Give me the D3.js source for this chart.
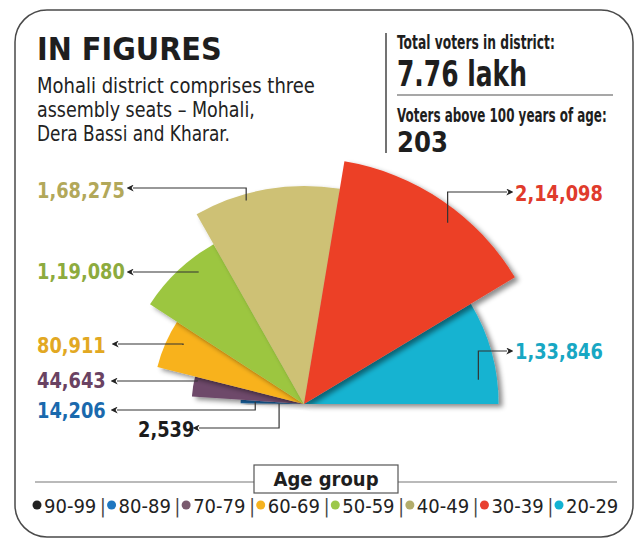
<!DOCTYPE html>
<html>
<head>
<meta charset="utf-8">
<script src="https://cdn.jsdelivr.net/npm/d3@7"></script>
<style>
  body { margin: 0; background: #fff; }
  svg text { font-family: "DejaVu Sans Condensed", "DejaVu Sans", sans-serif; font-stretch: condensed; }
</style>
</head>
<body>
<div id="container"></div>
<script>
// data, left to right around the half circle
const ageGroups = ["90-99", "80-89", "70-79", "60-69", "50-59", "40-49", "30-39", "20-29"];
const voters = [2539, 14206, 44643, 80911, 119080, 168275, 214098, 133846];
const wedgeColors = ["#1c1c1c", "#1b6fb6", "#6e4a6a", "#f8b21b", "#9cc63f", "#cec174", "#ec3f28", "#14b3d1"];
const labelColors = ["#1c1c1c", "#1a69ad", "#6a4262", "#e2a822", "#8dab3e", "#b2a85a", "#e03b2c", "#18a7c3"];
const dotColors = ["#222222", "#1f77c0", "#7a5a6e", "#f5b21f", "#9cc84a", "#b3ad6c", "#e8402f", "#12b2d2"];

// header texts
const title = "IN FIGURES";
const subtitle = ["Mohali district comprises three", "assembly seats \u2013 Mohali,", "Dera Bassi and Kharar."];
const totalLabel = "Total voters in district:";
const totalValue = "7.76 lakh";
const centLabel = "Voters above 100 years of age:";
const centValue = "203";

let w = 640;
let h = 546;
let cx = 304, cy = 404;

// callout placement for each wedge (label spot, arrow spot, where inside the wedge it points)
const callouts = [
  {tx: 138, ty: 437, ax: 199, ay: 428, t: 0.5, f: 0.93},
  {tx: 37, ty: 418, ax: 117, ay: 410, t: 0.5, f: 0.77},
  {tx: 37, ty: 388, ax: 117, ay: 381, t: 0.79, f: 0.97},
  {tx: 37, ty: 353, ax: 118, ay: 344, t: 0.63, f: 0.89},
  {tx: 37, ty: 279, ax: 133, ay: 272, t: 0.66, f: 0.92},
  {tx: 37, ty: 198, ax: 133, ay: 188, t: 0.35, f: 0.97},
  {tx: 515, ty: 201, ax: 507, ay: 192, t: 0.584, f: 0.94},
  {tx: 515, ty: 359, ax: 507, ay: 351, t: 0.745, f: 0.905}
];

// indian style grouping: 1,68,275
function lakhFormat(n) {
  let s = String(n);
  if (s.length <= 3) return s;
  let last = s.slice(-3);
  let rest = s.slice(0, -3);
  let parts = [];
  while (rest.length > 2) {
    parts.unshift(rest.slice(-2));
    rest = rest.slice(0, -2);
  }
  if (rest.length) parts.unshift(rest);
  return parts.join(",") + "," + last;
}

// squeeze a text sideways so it spans `width` px (the print font is very narrow)
function fitText(sel, x, y, width) {
  sel.each(function () {
    let natural = this.getComputedTextLength();
    let k = Math.min(1, width / natural);
    d3.select(this).attr("transform", `translate(${x},${y}) scale(${k},1)`);
  });
}

let data = ageGroups.map((g, i) => ({group: g, value: voters[i], idx: i}));

let viz = d3.select("#container")
  .append("svg")
  .attr("width", w)
  .attr("height", h);

let defs = viz.append("defs");
defs.append("filter")
  .attr("id", "shadow")
  .attr("x", "-20%").attr("y", "-20%").attr("width", "140%").attr("height", "140%")
  .append("feDropShadow")
  .attr("dx", 4).attr("dy", 3)
  .attr("stdDeviation", 2.5)
  .attr("flood-color", "#000")
  .attr("flood-opacity", 0.45);

defs.append("marker")
  .attr("id", "arrow")
  .attr("viewBox", "0 0 10 10")
  .attr("refX", 1).attr("refY", 5)
  .attr("markerWidth", 7).attr("markerHeight", 7)
  .attr("markerUnits", "userSpaceOnUse")
  .attr("orient", "auto-start-reverse")
  .append("path")
  .attr("d", "M10,5 L0,0 L3,5 L0,10 z")
  .attr("fill", "#222");

// frame
viz.append("rect")
  .attr("x", 15).attr("y", 10)
  .attr("width", 618).attr("height", 527)
  .attr("rx", 32)
  .attr("fill", "none")
  .attr("stroke", "#4a4a4a")
  .attr("stroke-width", 1.5);

// header, left
viz.append("text")
  .attr("font-size", 32).attr("font-weight", "bold")
  .attr("fill", "#1e1e1e")
  .text(title)
  .call(fitText, 37, 60, 185);

const subWidths = [278, 218, 193];
viz.append("g").selectAll("text")
  .data(subtitle)
  .join("text")
  .attr("font-size", 20.5)
  .attr("fill", "#222")
  .text(d => d)
  .each(function (d, i) {
    d3.select(this).call(fitText, 37, 93 + i * 24, subWidths[i]);
  });

// header, right
viz.append("line")
  .attr("x1", 386).attr("x2", 386).attr("y1", 33).attr("y2", 153)
  .attr("stroke", "#444").attr("stroke-width", 1.5);
viz.append("line")
  .attr("x1", 397).attr("x2", 613).attr("y1", 95).attr("y2", 95)
  .attr("stroke", "#8a8a8a").attr("stroke-width", 1.5);

const headRight = [
  {t: totalLabel, y: 49, size: 19, len: 158},
  {t: totalValue, y: 86, size: 35, len: 130},
  {t: centLabel, y: 122, size: 19, len: 210},
  {t: centValue, y: 152, size: 28, len: 51}
];
viz.append("g").selectAll("text")
  .data(headRight)
  .join("text")
  .attr("font-size", d => d.size)
  .attr("font-weight", "bold")
  .attr("fill", "#1e1e1e")
  .text(d => d.t)
  .each(function (d) {
    d3.select(this).call(fitText, 397, d.y, d.len);
  });

// the half pie: angle by share, radius by sqrt of value
let pie = d3.pie()
  .value(d => d.value)
  .sort(null)
  .startAngle(-Math.PI / 2)
  .endAngle(Math.PI / 2);

let rScale = d3.scaleSqrt()
  .domain([0, d3.max(voters)])
  .range([0, 246]);

let arc = d3.arc()
  .innerRadius(0)
  .outerRadius(d => rScale(d.data.value));

let slices = pie(data);
// paint order: 20-29 first, 30-39 last so its shadow falls on its neighbours
let paintOrder = [7, 0, 1, 2, 3, 4, 5, 6].map(i => slices[i]);

let graphGroup = viz.append("g")
  .attr("transform", `translate(${cx},${cy})`);

graphGroup.selectAll(".wedge")
  .data(paintOrder)
  .join("path")
  .classed("wedge", true)
  .attr("d", arc)
  .attr("fill", d => wedgeColors[d.data.idx])
  .attr("filter", "url(#shadow)");

// callouts
let calloutGroup = viz.append("g");
slices.forEach((s, i) => {
  let c = callouts[i];
  let a = s.startAngle + (s.endAngle - s.startAngle) * c.t;
  let r = rScale(s.data.value) * c.f;
  let tipX = cx + r * Math.sin(a);
  let tipY = cy - r * Math.cos(a);
  calloutGroup.append("path")
    .attr("d", `M${c.ax},${c.ay} H${tipX} V${tipY}`)
    .attr("fill", "none")
    .attr("stroke", "#333")
    .attr("stroke-width", 1.2)
    .attr("marker-start", "url(#arrow)");
  // taller, narrower digits like the print
  let label = calloutGroup.append("text")
    .attr("font-size", 22)
    .attr("font-weight", "bold")
    .attr("fill", labelColors[i])
    .text(lakhFormat(s.data.value));
  let natural = label.node().getComputedTextLength();
  label.call(fitText, c.tx, c.ty, natural * 0.9);
});

// legend
let legend = viz.append("g");
legend.append("line")
  .attr("x1", 35).attr("x2", 617).attr("y1", 482).attr("y2", 482)
  .attr("stroke", "#777").attr("stroke-width", 1.2);
legend.append("rect")
  .attr("x", 254).attr("y", 465).attr("width", 144).attr("height", 28)
  .attr("fill", "#fff").attr("stroke", "#555").attr("stroke-width", 1.2);
legend.append("text")
  .attr("x", 326).attr("y", 486)
  .attr("text-anchor", "middle")
  .attr("font-size", 20).attr("font-weight", "bold")
  .attr("fill", "#1e1e1e")
  .text("Age group");

let legendX = d3.scalePoint()
  .domain(ageGroups)
  .range([37, 559]);

let items = legend.selectAll(".item")
  .data(ageGroups)
  .join("g")
  .classed("item", true)
  .attr("transform", d => `translate(${legendX(d)},505)`);
items.append("circle")
  .attr("r", 4.5)
  .attr("fill", (d, i) => dotColors[i]);
items.append("text")
  .attr("x", 7)
  .attr("y", 8)
  .attr("font-size", 20)
  .attr("fill", "#222")
  .text(d => d);
items.filter((d, i) => i < ageGroups.length - 1)
  .append("text")
  .attr("x", 63)
  .attr("y", 8)
  .attr("font-size", 19)
  .attr("fill", "#444")
  .text("|");
</script>
</body>
</html>
